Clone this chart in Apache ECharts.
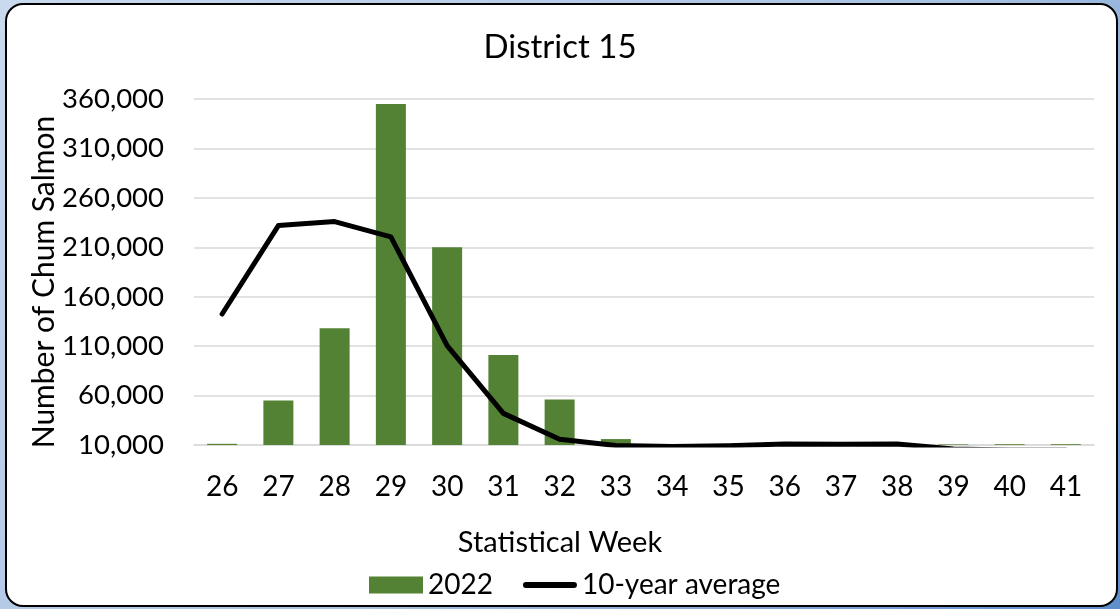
<!DOCTYPE html>
<html>
<head>
<meta charset="utf-8">
<script src="https://cdn.jsdelivr.net/npm/echarts@6/dist/echarts.min.js"></script>
<style>
  html, body { margin: 0; padding: 0; }
  body {
    width: 1120px; height: 609px; overflow: hidden; position: relative;
    background: linear-gradient(135deg, #c9d9ee 0%, #a9c2e2 55%, #5f8fcb 100%);
  }
  #panel {
    position: absolute; left: 5px; top: 3px; width: 1109px; height: 600px;
    background: #fff; border: 2px solid #000; border-radius: 18px;
  }
  #main { position: absolute; left: 0; top: 0; width: 1120px; height: 609px; }
</style>
</head>
<body>
<div id="panel"></div>
<div id="main"></div>
<script>
const weeks = ["26", "27", "28", "29", "30", "31", "32", "33", "34", "35", "36", "37", "38", "39", "40", "41"];
// 2022 weekly counts
const catch2022 = [11200, 55000, 128000, 355000, 210000, 101000, 56000, 16000, 0, 0, 0, 0, 0, 10600, 10800, 10800];
// 10-year average
const avg10yr = [142500, 232000, 236000, 220500, 110500, 42000, 15800, 9500, 8500, 9300, 11000, 10700, 11000, 6000, 5000, 5000];

const yMin = 10000;
const yMax = 360000;
const yStep = 50000;

const font = "Lato, 'Open Sans', sans-serif";
// thick rounded dash for the line legend entry
const lineIcon = "path://M3,0 L52,0 A3,3 0 0 1 52,6 L3,6 A3,3 0 0 1 3,0 Z";

function initChart(options2) {
  var myChart2 = echarts.init(document.querySelector("#main"), null, { renderer: "canvas" });
  myChart2.setOption(options2);
  return myChart2;
}

const options = {
  backgroundColor: "transparent",
  textStyle: { fontFamily: font, color: "#000" },
  title: [
    {
      text: "District 15",
      left: "center",
      top: 26,
      textStyle: { fontFamily: font, fontSize: 33, fontWeight: "normal", color: "#000" }
    },
    {
      text: "Statistical Week",
      left: "center",
      top: 523,
      textStyle: { fontFamily: font, fontSize: 29, fontWeight: "normal", color: "#000" }
    }
  ],
  graphic: [
    {
      type: "text",
      x: 44,
      y: 282,
      rotation: Math.PI / 2,
      style: {
        text: "Number of Chum Salmon",
        font: "30px Lato, 'Open Sans', sans-serif",
        fill: "#000",
        align: "center",
        verticalAlign: "middle"
      }
    }
  ],
  legend: {
    bottom: 10,
    left: 369,
    padding: 0,
    itemWidth: 54,
    itemHeight: 17,
    itemGap: 30,
    textStyle: { fontFamily: font, fontSize: 28, color: "#000" },
    data: [
      { name: "2022", icon: "rect" },
      { name: "10-year average", icon: lineIcon }
    ]
  },
  grid: { left: 194, right: 26, top: 99, bottom: 164 },
  xAxis: {
    type: "category",
    data: weeks,
    axisTick: { show: false },
    axisLine: { lineStyle: { color: "#d9d9d9", width: 1.5 } },
    axisLabel: { fontFamily: font, fontSize: 28, color: "#000", margin: 28 }
  },
  yAxis: {
    type: "value",
    min: yMin,
    max: yMax,
    interval: yStep,
    axisLine: { show: false },
    axisTick: { show: false },
    splitLine: { lineStyle: { color: "#d9d9d9", width: 1.5 } },
    axisLabel: {
      fontFamily: font, fontSize: 27.5, color: "#000", margin: 30,
      formatter: (v) => v.toLocaleString("en-US")
    }
  },
  series: [
    {
      name: "2022",
      type: "bar",
      data: catch2022,
      barWidth: 30,
      clip: true,
      itemStyle: { color: "#548235" }
    },
    {
      name: "10-year average",
      type: "line",
      data: avg10yr,
      symbol: "none",
      clip: true,
      lineStyle: { color: "#000", width: 5, cap: "round", join: "round" },
      itemStyle: { color: "#000" }
    }
  ]
};

var myChart = initChart(options);
window.onresize = function() {
  myChart.resize();
};
</script>
</body>
</html>
